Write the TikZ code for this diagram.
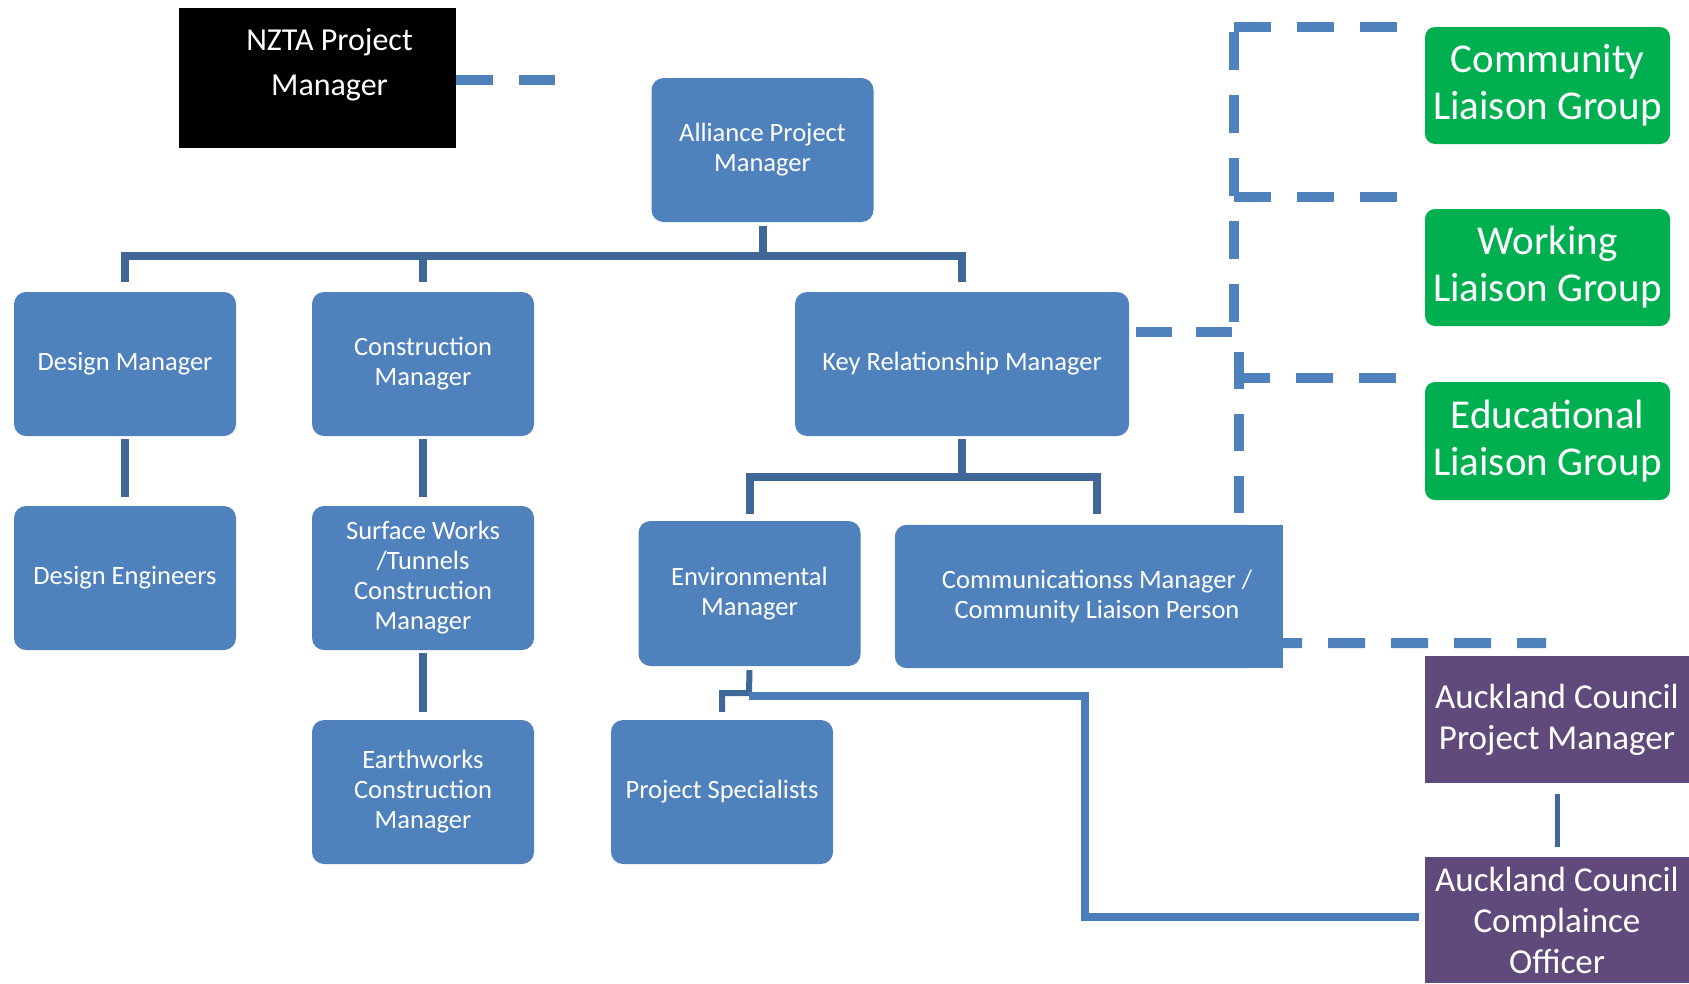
\documentclass[tikz,border=0pt]{standalone}
\usepackage{fontspec}
\setmainfont{Carlito}
\usetikzlibrary{backgrounds}
\definecolor{boxblue}{HTML}{4F81BD}
\definecolor{linedark}{HTML}{3F6797}
\definecolor{linemid}{HTML}{4A7DBA}
\definecolor{dashblue}{HTML}{4F81BD}
\definecolor{lgreen}{HTML}{00B050}
\definecolor{lpurple}{HTML}{604A7B}
\begin{document}
\begin{tikzpicture}[x=1pt,y=-1pt,
  bluebox/.style={fill=boxblue, rounded corners=12pt, text=white, align=center,
    font=\fontsize{26.5}{30}\selectfont, inner sep=0pt, minimum width=222pt, minimum height=144pt},
  greenbox/.style={fill=lgreen, rounded corners=10pt, text=white, align=center,
    font=\fontsize{41}{47}\selectfont, inner sep=0pt, minimum width=245pt, minimum height=117pt},
  purplebox/.style={fill=lpurple, text=white, align=center,
    font=\fontsize{35}{41}\selectfont, inner sep=0pt, minimum width=264pt, minimum height=127pt},
  solidlink/.style={draw=linedark, line width=8pt},
  dashlink/.style={draw=dashblue, line width=10pt, dash pattern=on 37pt off 26pt},
]
\begin{pgfonlayer}{background}
\fill[white] (0,0) rectangle (1689,983);
\end{pgfonlayer}
\useasboundingbox (0,0) rectangle (1689,983);
\clip (0,0) rectangle (1689,983);

% nodes
\node[fill=black, inner sep=0pt, minimum width=277pt, minimum height=140pt] (nzta) at (317.5,78) {};
\node[text=white, align=center, inner sep=0pt, font=\fontsize{32}{45}\selectfont] (nztatxt) at ([xshift=12pt, yshift=13.5pt]nzta.center) {NZTA Project\\Manager};

\node[bluebox] (apm) at (762.5,150) {Alliance Project\\Manager};
\node[bluebox] (dm) at (125,364) {Design Manager};
\node[bluebox] (cm) at (423,364) {Construction\\Manager};
\node[bluebox, minimum width=334pt] (krm) at (962,364) {Key Relationship Manager};
\node[bluebox] (de) at (125,578) {Design Engineers};
\node[bluebox] (sw) at (423,578) {Surface Works\\/Tunnels\\Construction\\Manager};
\node[bluebox] (ew) at (423,792) {Earthworks\\Construction\\Manager};
\node[bluebox, minimum height=145pt] (env) at (749.5,593.5) {Environmental\\Manager};
\node[bluebox, fill=none, minimum width=404pt, minimum height=143pt] (comms) at (1097,596.5) {Communicationss Manager /\\Community Liaison Person};
\begin{pgfonlayer}{background}
\fill[boxblue, rounded corners=12pt] (comms.south west) rectangle ([xshift=-40pt]comms.north east);
\fill[boxblue] ([xshift=-100pt]comms.north east) rectangle ([xshift=-16pt]comms.south east);
\end{pgfonlayer}
\node[bluebox] (ps) at (722,792) {Project Specialists};

\node[greenbox] (clg) at (1547.5,85.5) {Community\\Liaison Group};
\node[greenbox] (wlg) at (1547.5,267.5) {Working\\Liaison Group};
\node[greenbox, minimum height=118pt] (elg) at (1547.5,441) {Educational\\Liaison Group};

\node[purplebox] (acpm) at (1557,719.5) {Auckland Council\\Project Manager};
\node[purplebox, minimum height=126pt] (comp) at (1557,920) {Auckland Council\\Complaince\\Officer};

% solid connectors
\coordinate (bus) at (762.5,256);
\draw[solidlink] ([yshift=-4pt]apm.south) -- (bus);
\draw[solidlink] ([yshift=10pt]dm.north) -- (dm.north |- bus) -- (krm.north |- bus) -- ([yshift=10pt]krm.north);
\draw[solidlink] ([yshift=10pt]cm.north) -- (cm.north |- bus);
\draw[solidlink] ([yshift=-3pt]dm.south) -- ([yshift=9pt]de.north);
\draw[solidlink] ([yshift=-3pt]cm.south) -- ([yshift=9pt]sw.north);
\draw[solidlink] ([yshift=-3pt]sw.south) -- ([yshift=8pt]ew.north);

\coordinate (kbus) at (962,477);
\draw[solidlink] ([yshift=-3pt]krm.south) -- (kbus);
\draw[solidlink] ([yshift=7pt]env.north) -- (env.north |- kbus) -- (comms.north |- kbus) -- ([yshift=11pt]comms.north);

\coordinate (envknee) at (749,693);
\draw[solidlink, line width=6pt] ([yshift=-4pt]env.south) -- (envknee) -| ([yshift=8pt]ps.north);
\coordinate (envline) at (749,696);
\draw[solidlink, draw=linemid] (envline) -- (1085,696) |- ([xshift=-6pt, yshift=3pt]comp.west);
\draw[draw=linedark, line width=5pt] ([yshift=-11pt]acpm.south) -- ([yshift=10pt]comp.north);

% dashed connectors
\coordinate (nztaend) at (555,80);
\draw[dashlink] ([yshift=-2pt]nzta.east) -- (nztaend);

\coordinate (krmdash) at ([yshift=32pt]krm.east);
\coordinate (vtopA) at (1234,32);
\coordinate (vtopB) at (1234,330);
\draw[dashlink, dash pattern=on 36pt off 24pt, dash phase=53pt] (krmdash) -- (1236,332);
\draw[dashlink, dash pattern=on 38pt off 25pt] (vtopA) -- (vtopB);
\coordinate (clgend) at (1397,27);
\coordinate (wlgend) at (1397,197);
\coordinate (elgend) at (1397,378);
\draw[dashlink] (1233.5,27) -- (clgend);
\draw[dashlink] (1233.5,197) -- (wlgend);
\coordinate (vlowA) at (1238.5,352);
\coordinate (vlowB) at (1238.5,515);
\draw[dashlink, dash pattern=on 37pt off 25pt] (vlowA) -- (vlowB);
\draw[dashlink, dash phase=10pt] (1243,378) -- (elgend);

\coordinate (acend) at (1546,643);
\draw[dashlink, dash phase=18pt] ([xshift=-16pt, yshift=25pt]comms.south east) -- (acend);
\end{tikzpicture}
\end{document}
